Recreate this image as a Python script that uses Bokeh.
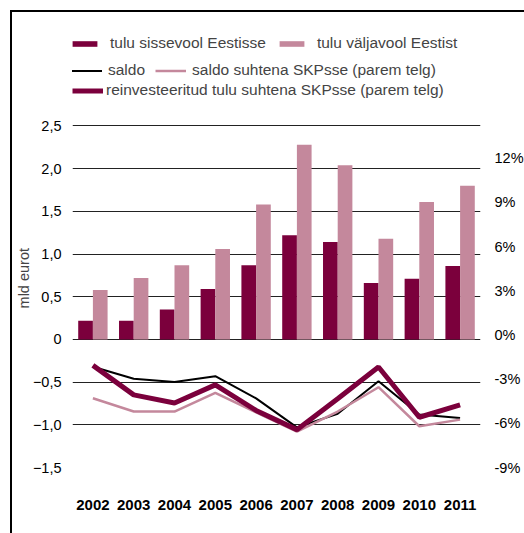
from bokeh.plotting import figure
from bokeh.models import (Range1d, LinearAxis, FixedTicker, PrintfTickFormatter,
                          Legend, LegendItem, FactorRange)
from bokeh.transform import dodge
from bokeh.embed import file_html
from bokeh.resources import INLINE

years = ["2002", "2003", "2004", "2005", "2006", "2007", "2008", "2009", "2010", "2011"]
inflow = [0.22, 0.22, 0.35, 0.59, 0.87, 1.22, 1.14, 0.66, 0.71, 0.86]
outflow = [0.58, 0.72, 0.87, 1.06, 1.58, 2.28, 2.04, 1.18, 1.61, 1.80]
saldo = [-0.32, -0.46, -0.50, -0.43, -0.69, -1.03, -0.87, -0.49, -0.88, -0.92]
saldo_pct = [-4.30, -5.20, -5.20, -3.93, -5.25, -6.57, -5.20, -3.55, -6.20, -5.75]
reinv_pct = [-2.07, -4.07, -4.62, -3.39, -5.13, -6.43, -4.34, -2.18, -5.59, -4.75]

left_ticks = [-1.5, -1.0, -0.5, 0, 0.5, 1.0, 1.5, 2.0, 2.5]
left_labels = ["\u22121,5", "\u22121,0", "\u22120,5", "0", "0,5", "1,0", "1,5", "2,0", "2,5"]
right_ticks = [-9, -6, -3, 0, 3, 6, 9, 12]

DARK = "#7b003c"
PINK = "#c4889c"
FONT = "Liberation Sans"
FS = "14.5px"
LFS = "15.5px"

p = figure(x_range=FactorRange(*years), y_range=Range1d(-1.5, 3.735),
           width=514, height=523, output_backend="svg", toolbar_location=None,
           min_border_left=55, min_border_right=39, min_border_top=8, min_border_bottom=68,
           margin=(10, 0, 0, 10),
           styles={"border-left": "2px solid black", "border-top": "2px solid black"})
p.extra_y_ranges = {"pct": Range1d(-9, 21.34)}
p.outline_line_color = None
p.xgrid.grid_line_color = None
p.ygrid.grid_line_color = "#222222"
p.ygrid.grid_line_width = 1
p.x_range.range_padding = 0

b1 = p.vbar(x=dodge("x", -0.18, range=p.x_range), top="top", width=0.36,
            source={"x": years, "top": inflow}, fill_color=DARK, line_color=None)
b2 = p.vbar(x=dodge("x", 0.18, range=p.x_range), top="top", width=0.36,
            source={"x": years, "top": outflow}, fill_color=PINK, line_color=None)
l1 = p.line(years, saldo, line_color="black", line_width=2)
l2 = p.line(years, saldo_pct, line_color=PINK, line_width=2.5, y_range_name="pct")
l3 = p.line(years, reinv_pct, line_color=DARK, line_width=5, y_range_name="pct")

# axes
p.xaxis.axis_line_color = None
p.xaxis.major_tick_line_color = None
p.xaxis.minor_tick_line_color = None
p.xaxis.major_label_text_font = FONT
p.xaxis.major_label_text_font_size = "15px"
p.xaxis.major_label_text_font_style = "bold"
p.xaxis.major_label_text_color = "black"
p.xaxis.major_label_standoff = 26

ya = p.yaxis[0]
ya.ticker = FixedTicker(ticks=left_ticks)
ya.major_label_overrides = {t: s for t, s in zip(left_ticks, left_labels)}
ya.axis_line_color = None
ya.major_tick_line_color = None
ya.minor_tick_line_color = None
ya.major_label_standoff = 5
ya.major_label_text_font = FONT
ya.major_label_text_font_size = FS
ya.major_label_text_color = "black"
ya.axis_label = "mld eurot" + "\u00a0" * 17
ya.axis_label_text_font = FONT
ya.axis_label_text_font_size = FS
ya.axis_label_text_font_style = "normal"
ya.axis_label_standoff = -2

ra = LinearAxis(y_range_name="pct", ticker=FixedTicker(ticks=right_ticks),
                formatter=PrintfTickFormatter(format="%d%%"))
ra.axis_line_color = None
ra.major_tick_line_color = None
ra.minor_tick_line_color = None
ra.major_label_standoff = 8
ra.major_label_text_font = FONT
ra.major_label_text_font_size = FS
ra.major_label_text_color = "black"
p.add_layout(ra, "right")


def mk_legend(items, loc, standoff=8):
    lg = Legend(items=items, location=loc, orientation="horizontal",
                padding=0, margin=0, spacing=10, label_standoff=standoff,
                glyph_width=31, glyph_height=7, label_height=16,
                label_text_font=FONT, label_text_font_size=LFS,
                border_line_color=None, background_fill_alpha=0)
    p.add_layout(lg, "center")


mk_legend([LegendItem(label="tulu sissevool Eestisse", renderers=[b1]),
           LegendItem(label="tulu väljavool Eestist", renderers=[b2])], (-3, 415), 10)
mk_legend([LegendItem(label="saldo", renderers=[l1]),
           LegendItem(label="saldo suhtena SKPsse (parem telg)", renderers=[l2])], (-1, 388), 6)
mk_legend([LegendItem(label="reinvesteeritud tulu suhtena SKPsse (parem telg)", renderers=[l3])], (0, 368), 3)

open("out.html", "w").write(file_html(p, INLINE))
